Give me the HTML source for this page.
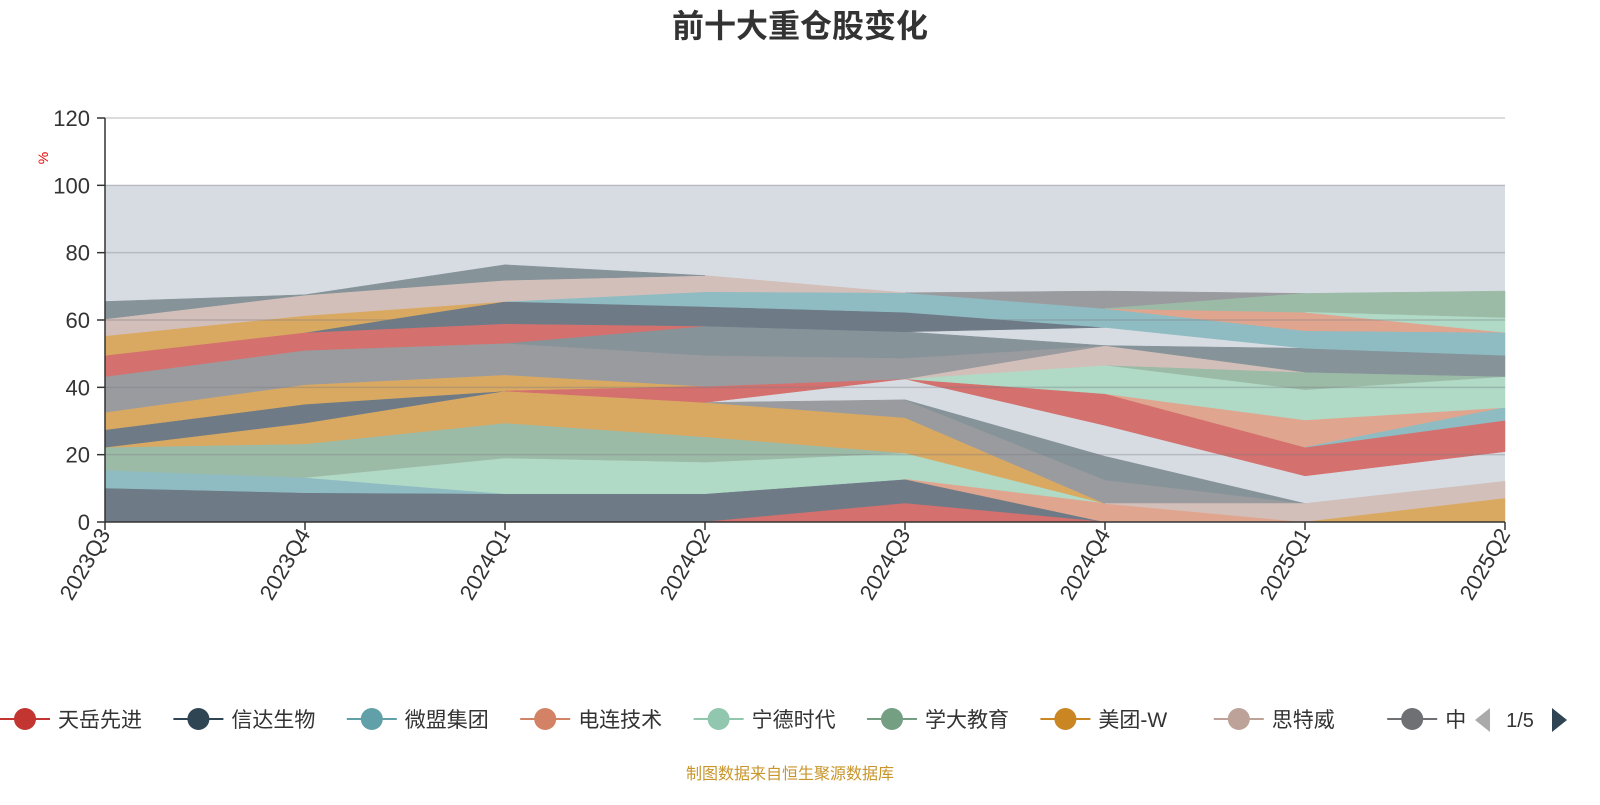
<!DOCTYPE html>
<html><head><meta charset="utf-8"><style>
body{margin:0;background:#fff;width:1600px;height:800px;overflow:hidden;font-family:"Liberation Sans","Noto Sans CJK SC",sans-serif}
svg text{font-family:"Liberation Sans","Noto Sans CJK SC",sans-serif}
</style></head><body>
<svg id="chart" width="1600" height="800" xmlns="http://www.w3.org/2000/svg">
<text x="800" y="37" text-anchor="middle" font-size="32" font-weight="bold" fill="#333">前十大重仓股变化</text>
<rect x="105" y="185" width="1400" height="337" fill="#d7dce3"/>
<g id="areas"></g>
<g id="grid"></g>
<g id="axes"></g>
<text x="48" y="158" font-size="14" fill="#e00" transform="rotate(-90 48 158)" text-anchor="middle">%</text>
<g id="legend"></g>
<polygon points="1490,708 1490,732 1475,720" fill="#aaa"/>
<text x="1520" y="727" font-size="20" fill="#333" text-anchor="middle">1/5</text>
<polygon points="1552,708 1552,732 1567,720" fill="#2f4554"/>
<text x="790" y="779" font-size="16" fill="#c8952a" text-anchor="middle">制图数据来自恒生聚源数据库</text>
</svg>
<script>
const categories=["2023Q3","2023Q4","2024Q1","2024Q2","2024Q3","2024Q4","2025Q1","2025Q2"];
const yTicks=[0,20,40,60,80,100,120];
const N=null;
const bandNames=["slate-bottom","red-bottom","teal-low","mint-low","salmon-low","sage","orange-2","slate-mid","orange-mid","red-mid","gray-2","slategray-3","red-right","salmon-2","teal-2","mint-2","sage-2","pink-2","gray-mid","slategray-2","red-upper","slate-upper","orange-upper","teal-upper","pink-upper","slategray-top","gray-top","salmon-top","sage-top","mint-top","pink-b","orange-b"];
const bandColors=["#6e7b87","#d4706d","#8fbcc2","#b0d9c6","#e0a58f","#9cbba7","#d9a962","#6e7b87","#d9a962","#d4706d","#9a9b9f","#869399","#d4706d","#e0a58f","#8fbcc2","#b0d9c6","#9cbba7","#d3bfb9","#9a9b9f","#869399","#d4706d","#6e7b87","#d9a962","#8fbcc2","#d3bfb9","#869399","#9a9b9f","#e0a58f","#9cbba7","#b0d9c6","#d3bfb9","#d9a962"];
const bandLow=[
[0,0,0,0,5.5,0,N,N],[N,N,N,0,0,0,N,N],[10.1,8.7,8.4,N,N,N,N,N],[N,13.2,8.4,8.4,12.7,5.5,N,N],
[N,N,N,N,12.7,0,0,N],[15.4,13.2,19,17.8,20.5,N,N,N],[22.2,23.2,29.4,25.3,20.5,5.5,N,N],[22.2,29.4,38.9,N,N,N,N,N],
[27.4,35,38.9,40.3,N,N,N,N],[N,N,38.9,35.5,42.5,N,N,N],[N,N,N,35.5,31,5.5,5.5,N],[N,N,N,N,36.3,12.5,5.5,N],
[N,N,N,N,42.5,28.7,13.7,20.9],[N,N,N,N,N,38.1,22.2,34],[N,N,N,N,N,N,22.2,30.2],[N,N,N,N,42.5,38.1,30.3,34],
[N,N,N,N,N,46.6,39.3,43.2],[N,N,N,N,42.5,46.6,44.5,N],[32.6,40.8,43.7,40.3,42.5,52.4,N,N],[N,N,53.1,49.5,48.7,52.4,44.5,43.2],
[43.2,51,53.1,58.2,N,N,N,N],[N,56.3,58.9,58.2,56.5,57.8,N,N],[49.5,56.3,65.5,N,N,N,N,N],[N,N,65.5,64,62.3,57.8,51.6,49.5],
[55.3,61.3,65.5,68.4,68.1,N,N,N],[60.3,67.4,71.8,73.2,N,N,N,N],[N,N,N,N,68.1,63.4,67.9,N],[N,N,N,N,N,63.4,56.8,56.3],
[N,N,N,N,N,63.4,62.3,60.6],[N,N,N,N,N,N,62.3,56.3],[N,N,N,N,N,5.5,0,7],[N,N,N,N,N,N,0,0]];
const bandHigh=[
[10.1,8.7,8.4,8.4,12.7,0,N,N],[N,N,N,0,5.5,0,N,N],[15.4,13.2,8.4,N,N,N,N,N],[N,13.2,19,17.8,20.5,5.5,N,N],
[N,N,N,N,12.7,5.5,0,N],[22.2,23.2,29.4,25.3,20.5,N,N,N],[22.2,29.4,38.9,35.5,31,5.5,N,N],[27.4,35,38.9,N,N,N,N,N],
[32.6,40.8,43.7,40.3,N,N,N,N],[N,N,38.9,40.3,42.5,N,N,N],[N,N,N,35.5,36.3,12.5,5.5,N],[N,N,N,N,36.3,19.5,5.5,N],
[N,N,N,N,42.5,38.1,22.2,30.2],[N,N,N,N,N,38.1,30.3,34],[N,N,N,N,N,N,22.2,34],[N,N,N,N,42.5,46.6,39.3,43.2],
[N,N,N,N,N,46.6,44.5,43.2],[N,N,N,N,42.5,52.4,44.5,N],[43.2,51,53.1,49.5,48.7,52.4,N,N],[N,N,53.1,58.2,56.5,52.4,51.6,49.5],
[49.5,56.3,58.9,58.2,N,N,N,N],[N,56.3,65.5,64,62.3,57.8,N,N],[55.3,61.3,65.5,N,N,N,N,N],[N,N,65.5,68.4,68.1,63.4,56.8,56.3],
[60.3,67.4,71.8,73.2,68.1,N,N,N],[65.5,67.5,76.4,73.2,N,N,N,N],[N,N,N,N,68.1,68.6,67.9,N],[N,N,N,N,N,63.4,62.3,56.3],
[N,N,N,N,N,63.4,67.9,68.6],[N,N,N,N,N,N,62.3,60.6],[N,N,N,N,N,5.5,5.5,12.1],[N,N,N,N,N,N,0,7]];
const legendNames=["天岳先进","信达生物","微盟集团","电连技术","宁德时代","学大教育","美团-W","思特威","中科"];
const legendColors=["#c23531","#2f4554","#61a0a8","#d48265","#91c7ae","#749f83","#ca8622","#bda29a","#6e7074"];

const NS="http://www.w3.org/2000/svg";
const X0=105,X1=1505,Y0=522,YMAX=120,YTOP=118;
function xs(i){return X0+i*(X1-X0)/(categories.length-1);}
function ys(v){return Y0-v*(Y0-YTOP)/YMAX;}
function mk(tag,attrs,parent){const e=document.createElementNS(NS,tag);for(const k in attrs)e.setAttribute(k,attrs[k]);parent.appendChild(e);return e;}

const areas=document.getElementById('areas');
bandNames.forEach((nm,b)=>{
  const idx=[];for(let i=0;i<categories.length;i++)if(bandLow[b][i]!==null)idx.push(i);
  const top=idx.map(i=>xs(i)+','+ys(bandHigh[b][i]));
  const bot=idx.slice().reverse().map(i=>xs(i)+','+ys(bandLow[b][i]));
  const p=mk('polygon',{points:top.concat(bot).join(' '),fill:bandColors[b],stroke:bandColors[b],'stroke-width':0.5},areas);
  
  
});
const grid=document.getElementById('grid');
yTicks.forEach(t=>{if(t===0)return;
  const l=mk('line',{x1:X0,x2:X1,y1:ys(t),y2:ys(t),stroke:'rgba(120,120,130,0.35)','stroke-width':1.5},grid);
  
  
});
const axes=document.getElementById('axes');
let a=mk('line',{x1:X0,x2:X0,y1:YTOP,y2:Y0,stroke:'#333','stroke-width':1.5},axes);


a=mk('line',{x1:X0,x2:X1,y1:Y0,y2:Y0,stroke:'#333','stroke-width':1.5},axes);


yTicks.forEach(t=>{
  const tk=mk('line',{x1:X0-8,x2:X0,y1:ys(t),y2:ys(t),stroke:'#333','stroke-width':1.5},axes);
  
  
  const tx=mk('text',{x:X0-15,y:ys(t)+8,'text-anchor':'end','font-size':22,fill:'#333'},axes);
  tx.textContent=t;
  
  
});
categories.forEach((c,i)=>{
  const tk=mk('line',{x1:xs(i),x2:xs(i),y1:Y0,y2:Y0+8,stroke:'#333','stroke-width':1.5},axes);
  
  
  const x=xs(i)+6,y=Y0+12;
  const tx=mk('text',{x:x,y:y,'text-anchor':'end','font-size':22,fill:'#333',transform:`rotate(-60 ${x} ${y})`},axes);
  tx.textContent=c;
  
  
});
const lg=document.getElementById('legend');
legendNames.forEach((n,i)=>{
  const cx=25+i*173.4;
  const g=mk('g',{},lg);
  
  
  mk('line',{x1:cx-25,x2:cx+25,y1:719,y2:719,stroke:legendColors[i],'stroke-width':2},g);
  mk('circle',{cx:cx,cy:719,r:11,fill:legendColors[i]},g);
  const t=mk('text',{x:cx+33,y:727,'font-size':21,fill:'#333'},g);
  t.textContent=n;
});
const cp=mk('rect',{x:1466,y:690,width:134,height:60,fill:'#fff'},lg);
lg.insertBefore(cp,null);
</script>
</body></html>
